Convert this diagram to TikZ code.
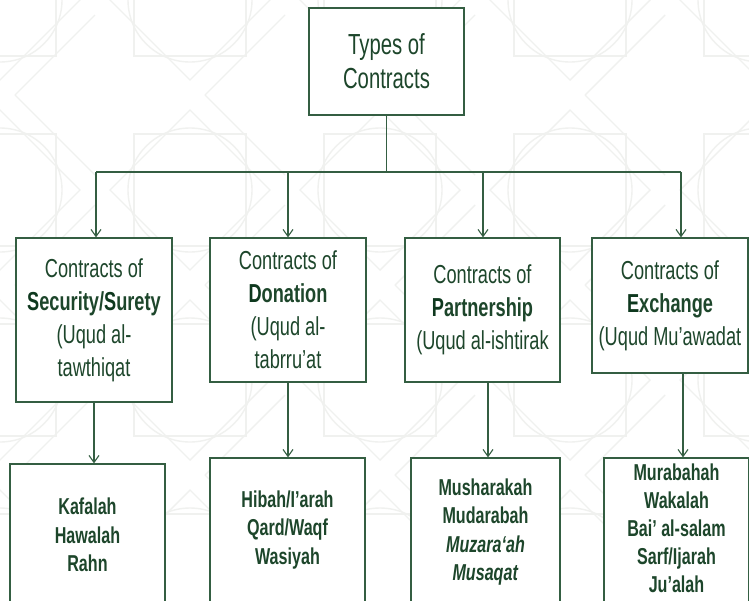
\documentclass[tikz,border=0pt]{standalone}
\usepackage{fontspec}
\setmainfont{Liberation Sans}[FakeStretch=0.7]
\usetikzlibrary{arrows.meta}
\definecolor{inkgreen}{RGB}{29,70,43}
\definecolor{deepgreen}{RGB}{14,56,30}
\definecolor{linegreen}{RGB}{52,94,66}
\definecolor{tracery}{RGB}{240,241,239}

\begin{document}
\begin{tikzpicture}[x=1pt,y=-1pt,
  box/.style={draw=linegreen, line width=1.3pt, fill=white, text=inkgreen,
              align=center, inner sep=0pt, anchor=center},
  root/.style={box, minimum width=155pt, minimum height=107pt,
               font=\fontsize{29}{34}\selectfont},
  kind/.style={box, minimum width=156pt, font=\fontsize{26}{33}\selectfont},
  list/.style={box, font=\bfseries\fontsize{23}{28.5}\selectfont},
  listtext/.style={text=inkgreen, align=center, inner sep=0pt,
                   font=\bfseries\fontsize{23}{28}\selectfont},
  link/.style={draw=linegreen, line width=1.1pt},
  arrowlink/.style={link, -{Straight Barb[length=7pt,width=10pt,line width=1.1pt]}},
]
\useasboundingbox (0,0) rectangle (749,600);
\clip (0,0) rectangle (749,600);
\fill[white] (0,0) rectangle (749,600);

% faint geometric tracery in the background
\begin{scope}[draw=tracery, line width=1.4pt]
  \foreach \cx in {0,190,...,760} {
    \foreach \cy in {0,190,...,570} {
      \draw (\cx,\cy) circle (62);
      \draw ({\cx-56},{\cy-56}) rectangle ({\cx+56},{\cy+56});
      \draw ({\cx+80},\cy) -- (\cx,{\cy+80}) -- ({\cx-80},\cy) -- (\cx,{\cy-80}) -- cycle;
      \draw ({\cx+95},{\cy+15}) -- ({\cx+15},{\cy+95});
      \draw ({\cx+95},{\cy+175}) -- ({\cx+15},{\cy+95});
    }
  }
\end{scope}

% root
\node[root] (top) at (386.5,61.5) {Types of\\Contracts};

% contract families
\node[kind, minimum height=164pt] (security) at (94,320)
  {Contracts of\\\textbf{\textcolor{deepgreen}{S}ecurity/\textcolor{deepgreen}{S}urety}\\(Uqud al-\\tawthiqat};
\node[kind, minimum height=144pt] (donation) at (288,310)
  {Contracts of\\\textbf{\textcolor{deepgreen}{D}onation}\\(Uqud al-\\tabrru’at};
\node[kind, minimum width=155pt, minimum height=144pt] (partner) at (482.5,310)
  {Contracts of\\\textbf{\textcolor{deepgreen}{P}artnership}\\(Uqud al-ishtirak};
\node[kind, minimum height=135pt] (exchange) at (670,305.5)
  {Contracts of\\\textbf{\textcolor{deepgreen}{E}xchange}\\(Uqud Mu’awadat};

% instruments
\node[list, minimum width=155pt, minimum height=142pt] (kafalah) at (87.5,535)
  {Kafalah\\Hawalah\\Rahn};
\node[list, minimum width=155pt, minimum height=144pt] (hibah) at (287.5,530)
  {Hibah/I’arah\\Qard/Waqf\\Wasiyah};
\node[list, minimum width=149pt, minimum height=148pt] (musharakah) at (485.5,532)
  {Musharakah\\Mudarabah\\\textit{Muzara‘ah}\\\textit{Musaqat}};
\node[list, minimum width=145pt, minimum height=150pt] (murabahah) at (676.5,533) {};
\node[listtext] (murabahahitems) at ([yshift=5pt]murabahah.center)
  {Murabahah\\Wakalah\\Bai’ al-salam\\Sarf/Ijarah\\Ju’alah};

% distribution bus
\coordinate (hub) at (386.5,172);
\coordinate (busL) at (96,172);
\coordinate (tap2) at (288,172);
\coordinate (tap3) at (483,172);
\coordinate (busR) at (681,172);
\draw[link] (top.south) -- (hub);
\draw[link] (busL) -- (busR);
\draw[arrowlink] (busL) -- (busL |- security.north);
\draw[arrowlink] (tap2) -- (tap2 |- donation.north);
\draw[arrowlink] (tap3) -- (tap3 |- partner.north);
\draw[arrowlink] (busR) -- (busR |- exchange.north);

% family to instruments
\draw[arrowlink] (security.south) -- (security.south |- kafalah.north);
\draw[arrowlink] (donation.south) -- (donation.south |- hibah.north);
\draw[arrowlink] ([xshift=5.5pt]partner.south) -- ([xshift=5.5pt]partner.south |- musharakah.north);
\draw[arrowlink] ([xshift=13pt]exchange.south) -- ([xshift=13pt]exchange.south |- murabahah.north);
\end{tikzpicture}
\end{document}
